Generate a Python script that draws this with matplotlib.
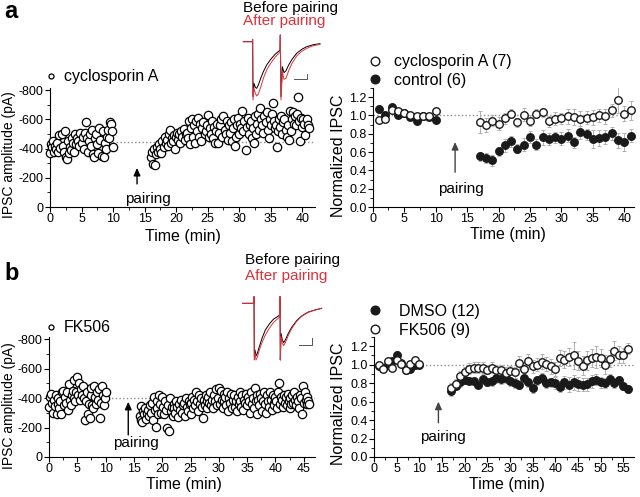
import numpy as np
import matplotlib
matplotlib.use("Agg")
import matplotlib.pyplot as plt
from matplotlib.ticker import MultipleLocator, FormatStrFormatter

plt.rcParams['font.family'] = ['Liberation Sans', 'DejaVu Sans']
plt.rcParams['axes.unicode_minus'] = False

RED = '#e0323c'
GREY = '#8c8c8c'

# ---------------- panel a, left: one cell in cyclosporin A (pA, one sweep every 10 s)
csa_pre_span = (0, 10)
csa_post_span = (16, 41)
csa_pre_amp = [367, 430, 410, 455, 380, 420, 395, 440, 375, 490, 405, 500, 420, 380, 520, 345,
               330, 455, 370, 410, 390, 470, 440, 380, 500, 430, 470, 455, 420, 510, 440, 480,
               400, 510, 583, 470, 380, 450, 500, 420, 530, 360, 340, 470, 500, 430, 370, 540,
               460, 350, 520, 345, 440, 400, 480, 530, 470, 580, 570, 520, 408]
csa_post_amp = [340, 380, 295, 400, 290, 360, 410, 375, 430, 395, 370, 450, 410, 480, 440, 460,
                420, 500, 530, 440, 470, 455, 490, 400, 480, 510, 460, 500, 440, 520, 480, 535,
                460, 500, 510, 470, 590, 430, 540, 600, 480, 560, 440, 590, 520, 610, 480, 570,
                450, 540, 580, 500, 520, 560, 630, 480, 540, 500, 590, 470, 550, 440, 520, 570,
                440, 510, 560, 600, 480, 620, 530, 500, 590, 460, 560, 510, 580, 450, 540, 600,
                415, 480, 560, 610, 500, 570, 540, 659, 520, 590, 390, 550, 610, 500, 560, 590,
                470, 540, 440, 620, 500, 570, 640, 530, 677, 600, 560, 510, 620, 580, 650, 530,
                470, 600, 560, 640, 711, 590, 540, 560, 408, 520, 600, 550, 620, 500, 580, 600,
                530, 480, 560, 460, 660, 520, 600, 650, 570, 620, 560, 640, 755, 590, 453, 610,
                550, 600, 570, 490, 600, 560, 540]
csa_baseline = 445

# ---------------- panel b, left: one cell in FK506
fk_pre_span = (0, 10)
fk_post_span = (16, 46)
fk_pre_amp = [340, 405, 430, 370, 300, 390, 345, 420, 295, 360, 400, 330, 380, 295, 440, 450,
              350, 410, 370, 440, 320, 495, 390, 350, 420, 450, 400, 525, 380, 440, 540, 420,
              500, 390, 460, 420, 485, 400, 250, 380, 440, 295, 360, 265, 420, 470, 350, 330,
              480, 410, 360, 440, 390, 460, 262, 370, 480, 420, 350, 400, 440]
fk_post_amp = [280, 250, 345, 240, 310, 290, 330,
               260, 300, 320, 280, 350, 300, 370, 250, 410, 320, 205, 380,
               330, 290, 420, 360, 300, 410, 340, 290, 380, 320, 200, 350,
               176, 400, 310, 340, 280, 360, 330, 300, 380, 340, 270, 360,
               320, 390, 300, 350, 370, 280, 400, 340, 310, 380, 360, 290,
               370, 410, 330, 390, 350, 440, 380, 310, 420, 360, 400, 340,
               265, 390, 350, 420, 380, 330, 410, 370, 440, 350, 390, 330,
               420, 380, 460, 350, 400, 470, 360, 450, 390, 330, 430, 380,
               410, 350, 440, 310, 400, 370, 430, 330, 390, 420, 340, 380,
               310, 410, 360, 440, 380, 340, 420, 320, 390, 370, 430, 350,
               410, 380, 300, 440, 360, 400, 330, 470, 380, 420, 290, 390,
               350, 430, 400, 310, 380, 440, 360, 300, 420, 380, 340, 440,
               390, 320, 420, 370, 350, 410, 380, 330, 440, 500, 360, 410,
               390, 340, 420, 370, 410, 350, 430, 380, 330, 400, 360, 420,
               370, 440, 390, 350, 410, 380, 330, 420, 400, 290, 480, 370,
               440, 390, 360, 410, 380, 360]
fk_baseline = 400

# ---------------- panel a, right: normalized IPSC, cyclosporin A (7) vs control (6)
norm_time_a = list(range(1, 11)) + list(range(17, 42))
csa_norm = [0.95, 0.96, 1.06, 1.05, 1.025, 1.0, 0.99, 0.99, 0.99, 1.045,
            0.925, 0.895, 0.945, 0.91, 0.97, 1.02, 0.925, 1.01, 0.945, 1.02, 1.035, 0.935, 0.965,
            0.97, 0.99, 0.985, 0.965, 0.975, 0.98, 1.0, 0.99, 1.055, 1.17, 1.02, 1.055]
csa_sem = [0.03, 0.02, 0.03, 0.02, 0.02, 0.03, 0.03, 0.03, 0.03, 0.03,
           0.12, 0.08, 0.06, 0.07, 0.06, 0.05, 0.05, 0.07, 0.06, 0.05, 0.05, 0.06, 0.07,
           0.06, 0.08, 0.09, 0.08, 0.07, 0.08, 0.07, 0.08, 0.07, 0.14, 0.08, 0.10]
ctl_norm = [1.07, 1.005, 1.09, 1.0, 1.03, 0.98, 0.945, 0.99, 0.985, 0.953,
            0.553, 0.535, 0.51, 0.607, 0.673, 0.716, 0.636, 0.68, 0.764, 0.68, 0.76, 0.742, 0.764,
            0.745, 0.778, 0.709, 0.815, 0.793, 0.742, 0.753, 0.764, 0.807, 0.727, 0.709, 0.778]
ctl_sem = [0.04, 0.03, 0.03, 0.03, 0.03, 0.03, 0.03, 0.03, 0.03, 0.03,
           0.05, 0.05, 0.06, 0.05, 0.07, 0.06, 0.05, 0.07, 0.07, 0.06, 0.08, 0.07, 0.06,
           0.07, 0.07, 0.06, 0.07, 0.06, 0.10, 0.09, 0.08, 0.07, 0.08, 0.10, 0.07]

# ---------------- panel b, right: normalized IPSC, DMSO (12) vs FK506 (9)
norm_time_b = list(range(1, 11)) + list(range(17, 57))
dmso_norm = [0.99, 0.965, 1.0, 1.037, 1.11, 1.02, 0.947, 0.954, 1.0, 1.0,
             0.712, 0.773, 0.81, 0.83, 0.828, 0.82, 0.784, 0.845, 0.81, 0.82, 0.857, 0.845, 0.857,
             0.82, 0.802, 0.784, 0.857, 0.81, 0.748, 0.83, 0.857, 0.802, 0.81, 0.802, 0.76, 0.81,
             0.784, 0.81, 0.79, 0.784, 0.79, 0.82, 0.838, 0.81, 0.802, 0.845, 0.802, 0.83, 0.766,
             0.737]
dmso_sem = [0.03, 0.03, 0.03, 0.03, 0.04, 0.03, 0.03, 0.03, 0.03, 0.03,
            0.05, 0.04, 0.05, 0.04, 0.04, 0.04, 0.04, 0.05, 0.04, 0.05, 0.05, 0.05, 0.05, 0.05,
            0.05, 0.05, 0.05, 0.05, 0.05, 0.05, 0.05, 0.05, 0.05, 0.06, 0.06, 0.07, 0.08, 0.08,
            0.08, 0.07, 0.07, 0.07, 0.06, 0.06, 0.05, 0.05, 0.05, 0.05, 0.04, 0.04]
fk_norm = [1.0, 0.958, 1.037, 0.965, 1.055, 1.01, 0.94, 1.01, 1.055, 1.005,
           0.748, 0.79, 0.875, 0.918, 0.958, 0.968, 0.965, 0.968, 0.947, 0.968, 0.94, 0.94, 0.91,
           0.93, 0.918, 1.02, 0.958, 1.037, 0.983, 1.0, 1.033, 1.008, 0.983, 0.954, 1.073, 1.055,
           1.084, 1.1, 1.044, 0.99, 1.048, 1.073, 1.08, 1.073, 1.0, 1.066, 1.153, 1.11, 1.1, 1.175]
fk_sem = [0.03, 0.03, 0.03, 0.03, 0.03, 0.03, 0.03, 0.03, 0.03, 0.03,
          0.05, 0.05, 0.06, 0.06, 0.06, 0.06, 0.06, 0.06, 0.05, 0.06, 0.06, 0.06, 0.06, 0.06,
          0.06, 0.07, 0.07, 0.08, 0.07, 0.07, 0.08, 0.08, 0.08, 0.08, 0.09, 0.09, 0.10, 0.15,
          0.10, 0.10, 0.10, 0.10, 0.12, 0.10, 0.10, 0.09, 0.10, 0.09, 0.08, 0.06]

# ---------------- example traces (arbitrary units)
trace_a_t = [0, 27, 28, 29, 32, 36, 40, 45, 52, 60, 70, 82, 95, 108, 110, 111, 113, 117, 122,
             128, 136, 146, 160, 175, 190, 210, 230]
trace_a_before = [0, 0, 7, -165, -125, -137, -140, -130, -110, -90, -70, -53, -38, -27, -25, 20,
                  -165, -75, -93, -87, -70, -53, -35, -23, -15, -9, -6]
trace_a_after = [0, 0, 7, -175, -140, -155, -163, -157, -137, -110, -85, -65, -47, -33, -30, 20,
                 -175, -90, -113, -110, -87, -65, -43, -29, -20, -12, -8]
trace_b_t = [0, 33, 34, 35, 37, 40, 44, 50, 58, 68, 80, 92, 104, 111, 112, 113, 115, 119, 123,
             129, 137, 147, 162, 177, 197, 217, 237]
trace_b_before = [0, 0, 20, -160, -140, -158, -150, -130, -105, -80, -62, -48, -40, -35, 20,
                  -170, -90, -110, -118, -108, -90, -72, -52, -38, -26, -20, -15]
trace_b_after = [0, 0, 20, -170, -150, -170, -162, -140, -118, -95, -75, -58, -47, -40, 20,
                 -170, -100, -120, -127, -116, -96, -76, -54, -39, -27, -20, -15]

ARROW = dict(arrowstyle='-|>,head_length=0.45,head_width=0.2', lw=1, shrinkA=0, shrinkB=0)


def style_axis(ax, xmax, xmajor, ylim, ymajor, yfmt=None):
    for side in ('top', 'right'):
        ax.spines[side].set_visible(False)
    for side in ('left', 'bottom'):
        ax.spines[side].set_linewidth(0.8)
    ax.set_xlim(0, xmax)
    ax.set_ylim(*ylim)
    ax.xaxis.set_major_locator(MultipleLocator(xmajor))
    ax.xaxis.set_minor_locator(MultipleLocator(xmajor / 2))
    ax.yaxis.set_major_locator(MultipleLocator(ymajor))
    ax.yaxis.set_minor_locator(MultipleLocator(ymajor / 2))
    if yfmt:
        ax.yaxis.set_major_formatter(FormatStrFormatter(yfmt))
    ax.tick_params(which='major', direction='out', length=3.5, width=0.8, labelsize=9, pad=1)
    ax.tick_params(which='minor', direction='out', length=2, width=0.6)
    ax.set_xlabel('Time (min)', fontsize=11.5)


def cell_panel(ax, pre_span, pre_amp, post_span, post_amp, baseline, xmax, arrow):
    pre_t = np.linspace(pre_span[0], pre_span[1], len(pre_amp))
    post_t = np.linspace(post_span[0], post_span[1], len(post_amp))
    amp = -np.array(pre_amp + post_amp)
    t = np.concatenate([pre_t, post_t])
    ax.plot([0, xmax], [-baseline, -baseline], ls=':', color=GREY, lw=1, zorder=1)
    h, = ax.plot(t, amp, 'o', ms=6, mfc='white', mec='black', mew=0.9, clip_on=False, zorder=3)
    style_axis(ax, xmax, 5, (0, -815), 200)
    ax.set_ylabel('IPSC amplitude (pA)', fontsize=10)
    ax.annotate('', xy=(arrow[0], arrow[2]), xytext=(arrow[0], arrow[1]),
                arrowprops=dict(ARROW, color='black'))
    ax.text(arrow[0] + arrow[4], arrow[3], 'pairing', fontsize=11, ha='center', va='center')
    return h


def norm_panel(ax, t, series, xmax, arrow):
    for vals, sem, filled in series:
        ax.errorbar(t, vals, yerr=sem, fmt='none', ecolor='#b0b0b0', elinewidth=0.7,
                    capsize=1.5, capthick=0.7, zorder=2)
    handles = []
    for vals, sem, filled in series:
        h, = ax.plot(t, vals, 'o', ms=5.4, mfc='#1a1a1a' if filled else 'white', mec='#1a1a1a',
                     mew=1.0, zorder=4 if not filled else 3, clip_on=False)
        handles.append(h)
    ax.plot([0, xmax], [1.0, 1.0], ls=':', color=GREY, lw=1, zorder=1)
    style_axis(ax, xmax, 5, (0, 1.3), 0.2, '%.1f')
    ax.set_ylabel('Normalized IPSC', fontsize=11.5)
    ax.annotate('', xy=(arrow[0], arrow[2]), xytext=(arrow[0], arrow[1]),
                arrowprops=dict(ARROW, color='#444444'))
    ax.text(arrow[0] + arrow[4], arrow[3], 'pairing', fontsize=11, ha='center', va='center')
    return handles


def trace_inset(rect, t, before, after, xlim, ylim, bar):
    ins = fig.add_axes(rect)
    ins.plot(t, before, color='black', lw=0.7)
    ins.plot(t, after, color=RED, lw=0.7)
    ins.plot([bar[0], bar[1], bar[1]], [bar[2], bar[2], bar[3]], color='#555555', lw=0.7)
    ins.set_xlim(*xlim)
    ins.set_ylim(*ylim)
    ins.axis('off')


fig = plt.figure(figsize=(6.4, 4.97), dpi=100)

# ---- a, left
ax1 = fig.add_axes([0.0781, 0.5835, 0.414, 0.2394])
h1 = cell_panel(ax1, csa_pre_span, csa_pre_amp, csa_post_span, csa_post_amp, csa_baseline,
                42, (13.8, -158, -268, -55, 1.8))
ax1.yaxis.set_label_coords(-0.128, 0.44)
ax1.xaxis.set_label_coords(0.5, -0.185)
fig.legend([h1], ['cyclosporin A'], loc='center left', bbox_to_anchor=(46 / 640, 1 - 77 / 497),
           frameon=False, fontsize=11.5, markerscale=0.6, handlelength=0.6, handletextpad=0.5,
           borderpad=0, borderaxespad=0)

# ---- a, right
ax2 = fig.add_axes([0.5823, 0.5835, 0.408, 0.2394])
ha = norm_panel(ax2, norm_time_a, [(ctl_norm, ctl_sem, True), (csa_norm, csa_sem, False)],
                41.5, (13.1, 0.38, 0.71, 0.2, 1.0))
ax2.yaxis.set_label_coords(-0.102, 0.43)
ax2.xaxis.set_label_coords(0.518, -0.165)
fig.legend([ha[1], ha[0]], ['cyclosporin A (7)', 'control (6)'], loc='center left',
           bbox_to_anchor=(369 / 640, 1 - 71 / 497), frameon=False, fontsize=11.5,
           markerscale=1.15, handlelength=0.8, handletextpad=0.75, labelspacing=0.2,
           borderpad=0, borderaxespad=0)

# ---- b, left
ax3 = fig.add_axes([0.0766, 0.0805, 0.4156, 0.2414])
h3 = cell_panel(ax3, fk_pre_span, fk_pre_amp, fk_post_span, fk_post_amp, fk_baseline,
                47, (14.0, -150, -375, -96, 1.3))
ax3.yaxis.set_label_coords(-0.124, 0.425)
ax3.xaxis.set_label_coords(0.508, -0.165)
fig.legend([h3], ['FK506'], loc='center left', bbox_to_anchor=(46 / 640, 1 - 328 / 497),
           frameon=False, fontsize=11.5, markerscale=0.6, handlelength=0.6, handletextpad=0.5,
           borderpad=0, borderaxespad=0)

# ---- b, right
ax4 = fig.add_axes([0.5844, 0.0805, 0.406, 0.2414])
hb = norm_panel(ax4, norm_time_b, [(dmso_norm, dmso_sem, True), (fk_norm, fk_sem, False)],
                57.3, (14.2, 0.37, 0.6, 0.22, 1.0))
ax4.yaxis.set_label_coords(-0.108, 0.44)
ax4.xaxis.set_label_coords(0.513, -0.165)
fig.legend([hb[0], hb[1]], ['DMSO (12)', 'FK506 (9)'], loc='center left',
           bbox_to_anchor=(369 / 640, 1 - 321 / 497), frameon=False, fontsize=11.5,
           markerscale=1.15, handlelength=0.8, handletextpad=1.05, labelspacing=0.25,
           borderpad=0, borderaxespad=0)

# ---- insets with example traces
trace_inset([0.3776, 0.7954, 0.125, 0.1375], trace_a_t, trace_a_before, trace_a_after,
            (-5, 235), (-180, 25), (153, 190, -112, -97))
trace_inset([0.375, 0.269, 0.1302, 0.1408], trace_b_t, trace_b_before, trace_b_after,
            (-8, 242), (-180, 30), (170, 207, -125, -105))
fig.text(243 / 640, 1 - 8 / 497, 'Before pairing', fontsize=11, va='center', ha='left')
fig.text(243 / 640, 1 - 21 / 497, 'After pairing', fontsize=11, va='center', ha='left', color=RED)
fig.text(245 / 640, 1 - 260 / 497, 'Before pairing', fontsize=11, va='center', ha='left')
fig.text(245 / 640, 1 - 276 / 497, 'After pairing', fontsize=11, va='center', ha='left', color=RED)

# ---- panel letters
fig.text(4 / 640, 1 - 11 / 497, 'a', fontsize=17, fontweight='bold', va='center', ha='left')
fig.text(4 / 640, 1 - 273 / 497, 'b', fontsize=17, fontweight='bold', va='center', ha='left')

fig.savefig('out.png', dpi=100)
